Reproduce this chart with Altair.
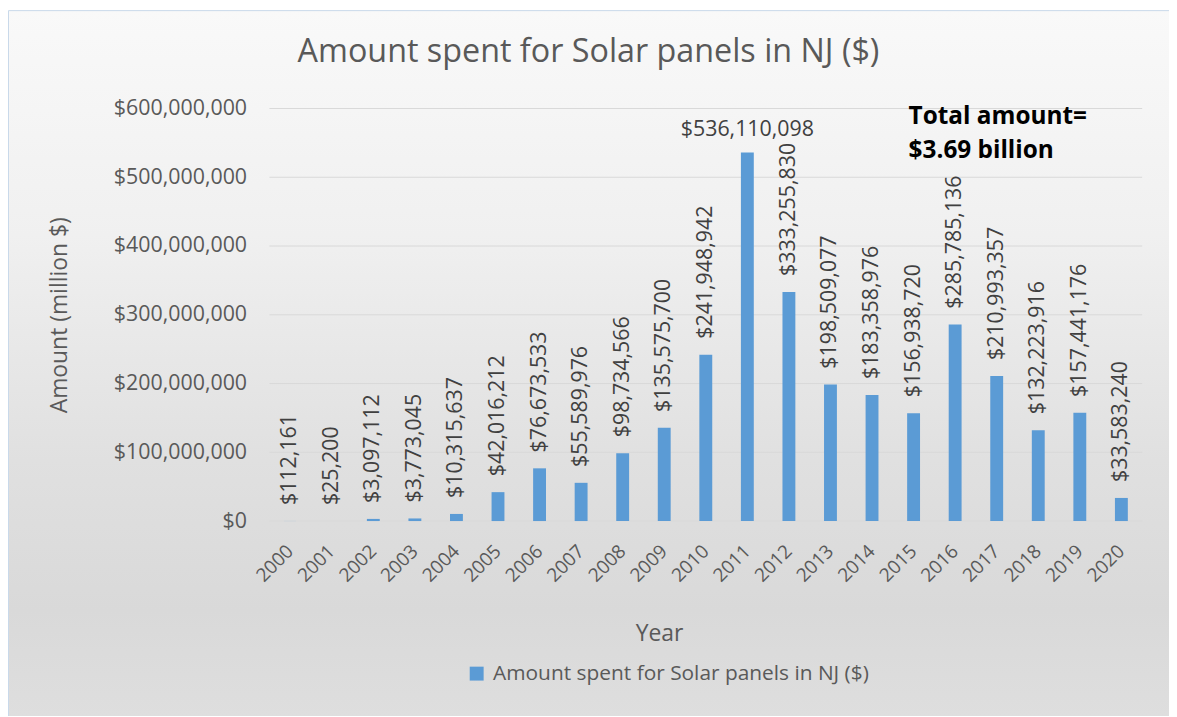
import altair as alt
import pandas as pd

# ---- data ----
years = [str(y) for y in range(2000, 2021)]
amounts = [112161, 25200, 3097112, 3773045, 10315637, 42016212, 76673533,
           55589976, 98734566, 135575700, 241948942, 536110098, 333255830,
           198509077, 183358976, 156938720, 285785136, 210993357, 132223916,
           157441176, 33583240]
series_name = "Amount spent for Solar panels in NJ ($)"
y_ticks = [0, 100000000, 200000000, 300000000, 400000000, 500000000, 600000000]
note_lines = ["Total amount=", "$3.69 billion"]
note_values = [588000000, 538000000]
note_year = "2015"
horizontal_label_year = "2011"

# ---- style ----
W, H = 878, 415
FONT = "Open Sans"
GREY = "#595959"
LABEL = "#404040"
BAR = "#5b9bd5"

df = pd.DataFrame({"year": years, "amount": amounts, "series": series_name})
grid_df = pd.DataFrame({"amount": y_ticks})
note_df = pd.DataFrame({"year": [note_year] * 2, "amount": note_values, "text": note_lines})
bg_df = pd.DataFrame({"k": [0]})

yscale = alt.Scale(domain=[0, 600000000], nice=False, zero=True)
xscale = alt.Scale(domain=years, paddingInner=0.69, paddingOuter=0.345)

y_axis = alt.Axis(title="Amount (million $)", values=y_ticks, format="$,.0f",
                  grid=False, domain=False, ticks=False, labelPadding=23,
                  labelFontSize=21.5, labelColor=GREY, labelFont=FONT,
                  titleFont=FONT, titleFontSize=23, titleColor=GREY,
                  titleFontWeight="normal", titleX=-211, titleY=207.5,
                  titleAngle=270, titleAlign="center", titleBaseline="middle",
                  zindex=1)
x_axis = alt.Axis(title="Year", labelAngle=315, labelAlign="right",
                  labelBaseline="middle", labelPadding=27, labelFontSize=19,
                  labelColor=GREY, labelFont=FONT, domain=False, ticks=False,
                  grid=False, titleFont=FONT, titleFontSize=23, titleColor=GREY,
                  titleFontWeight="normal", titleX=392, titleY=113,
                  titleAlign="center", titleBaseline="middle", zindex=1)


def X():
    return alt.X("year:O", scale=xscale, axis=x_axis, sort=years)


def Y():
    return alt.Y("amount:Q", scale=yscale, axis=y_axis)


bg = alt.Chart(bg_df).mark_rect(
    fill=alt.Gradient(gradient="linear", x1=0, x2=0, y1=0, y2=1, stops=[
        alt.GradientStop(color="#f9f9f9", offset=0),
        alt.GradientStop(color="#f0f0f0", offset=0.3),
        alt.GradientStop(color="#e0e0e0", offset=0.6),
        alt.GradientStop(color="#d9d9d9", offset=0.8),
        alt.GradientStop(color="#e0e0e0", offset=1),
    ]),
    stroke="#c9d9ea", strokeWidth=1,
).encode(x=alt.value(-262.5), x2=alt.value(W + 60),
         y=alt.value(-98.5), y2=alt.value(H + 240))

grid = alt.Chart(grid_df).mark_rule(color="#d9d9d9", strokeWidth=1).encode(y=Y())

bars = alt.Chart(df).mark_bar().encode(
    x=X(), y=Y(),
    color=alt.Color("series:N", scale=alt.Scale(range=[BAR]),
                    legend=alt.Legend(orient="none", legendX=198, legendY=558,
                                      title=None, symbolType="square",
                                      symbolSize=196, symbolStrokeWidth=0,
                                      labelFontSize=21, labelFont=FONT,
                                      labelColor=GREY, labelOffset=6, padding=0,
                                      labelLimit=1000)),
)

vlabels = alt.Chart(df).transform_filter(
    alt.datum.year != horizontal_label_year
).mark_text(angle=270, align="left", baseline="middle", dx=16, fontSize=21.5,
            font=FONT, color=LABEL).encode(
    x=X(), y=Y(), text=alt.Text("amount:Q", format="$,.0f"))

hlabel = alt.Chart(df).transform_filter(
    alt.datum.year == horizontal_label_year
).mark_text(align="center", baseline="alphabetic", dy=-17, fontSize=21.5,
            font=FONT, color=LABEL).encode(
    x=X(), y=Y(), text=alt.Text("amount:Q", format="$,.0f"))

note = alt.Chart(note_df).mark_text(align="left", baseline="middle", dx=-5,
                                     fontSize=24.5, fontWeight="bold", font=FONT,
                                     color="#000000").encode(
    x=X(), y=Y(), text="text:N")

chart = alt.layer(bg, grid, bars, vlabels, hlabel, note).properties(
    width=W, height=H,
    autosize=alt.AutoSizeParams(type="none"),
    padding={"left": 263, "top": 99, "right": 27, "bottom": 194},
    title=alt.TitleParams(text="Amount spent for Solar panels in NJ ($)",
                          fontSize=32.5, font=FONT, color=GREY,
                          fontWeight="normal", anchor="middle", frame="group",
                          dx=-118, dy=125, offset=40, baseline="alphabetic"),
).configure_view(stroke=None)

chart.save("out.html", embed_options={"renderer": "svg", "actions": False})
